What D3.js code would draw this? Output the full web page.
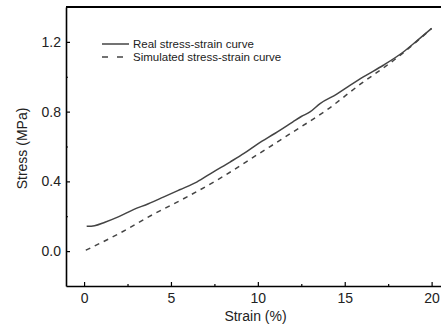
<!DOCTYPE html>
<html>
<head>
<meta charset="utf-8">
<script src="https://cdn.jsdelivr.net/npm/d3@7"></script>
<style>
  html, body { margin: 0; padding: 0; background: #fff; }
  svg { display: block; font-family: "Liberation Sans", Arial, sans-serif; }
</style>
</head>
<body>
<div id="chart"></div>
<script>
// 資料
const realStrain = [0.15, 0.6, 1.2, 2.0, 2.84, 3.7, 4.56, 5.5, 6.48, 7.4, 8.4, 9.2, 10.0, 11.0, 12.0, 12.5, 13.0, 13.58, 14.54, 15.3, 16.07, 17.22, 18.37, 19.2, 20.0];
const realStress = [0.142, 0.146, 0.166, 0.198, 0.238, 0.272, 0.31, 0.352, 0.396, 0.452, 0.511, 0.56, 0.615, 0.676, 0.74, 0.772, 0.798, 0.846, 0.9, 0.95, 0.999, 1.066, 1.142, 1.21, 1.277];
const simStrain = [0.1, 2, 4, 6, 8, 10, 12, 14, 16, 17.3, 18, 19, 20];
const simStress = [0.005, 0.1, 0.212, 0.315, 0.428, 0.555, 0.682, 0.812, 0.965, 1.056, 1.108, 1.19, 1.277];
const xTicks = [0, 5, 10, 15, 20];
const xMinor = [2.5, 7.5, 12.5, 17.5];
const yTicks = [0.0, 0.4, 0.8, 1.2];
const yMinor = [0.2, 0.6, 1.0];
const seriesNames = ["Real stress-strain curve", "Simulated stress-strain curve"];

const width = 441;
const height = 324;
const margin = { top: 7, right: 0, bottom: 38, left: 66 };

const svg = d3.select("#chart")
    .append("svg")
    .attr("width", width)
    .attr("height", height);

// 比例尺
const xScale = d3.scaleLinear()
    .domain([-1.04, 20.54])
    .range([margin.left, width - margin.right]);

const yScale = d3.scaleLinear()
    .domain([-0.2, 1.4])
    .range([height - margin.bottom, margin.top]);

const axisColor = "#000";

// x 軸 (刻度向內)
const xAxis = svg.append("g")
    .attr("transform", `translate(0, ${height - margin.bottom})`)
    .call(d3.axisBottom(xScale).tickValues(xTicks).tickSizeInner(-4).tickSizeOuter(0).tickPadding(7).tickFormat(d3.format("d")));
xAxis.select(".domain").attr("stroke-width", 1.6);
xAxis.selectAll(".tick line").attr("stroke-width", 1.2);
xAxis.selectAll(".tick text").style("font-size", "14px").attr("fill", "#222");

svg.append("g")
    .attr("transform", `translate(0, ${height - margin.bottom})`)
    .call(d3.axisBottom(xScale).tickValues(xMinor).tickSizeInner(-2).tickSizeOuter(0).tickFormat(""))
    .call(g => g.select(".domain").remove())
    .selectAll(".tick line").attr("stroke-width", 1.2);

// y 軸 (刻度向內)
const yAxis = svg.append("g")
    .attr("transform", `translate(${margin.left}, 0)`)
    .call(d3.axisLeft(yScale).tickValues(yTicks).tickSizeInner(-4).tickSizeOuter(0).tickPadding(5).tickFormat(d3.format(".1f")));
yAxis.select(".domain").attr("stroke-width", 1.6);
yAxis.selectAll(".tick line").attr("stroke-width", 1.2);
yAxis.selectAll(".tick text").style("font-size", "14px").attr("fill", "#222");

svg.append("g")
    .attr("transform", `translate(${margin.left}, 0)`)
    .call(d3.axisLeft(yScale).tickValues(yMinor).tickSizeInner(-2).tickSizeOuter(0).tickFormat(""))
    .call(g => g.select(".domain").remove())
    .selectAll(".tick line").attr("stroke-width", 1.2);

// 上框線
svg.append("line")
    .attr("x1", margin.left)
    .attr("x2", width)
    .attr("y1", margin.top)
    .attr("y2", margin.top)
    .attr("stroke", axisColor)
    .attr("stroke-width", 2.2);

// 軸標題
svg.append("text")
    .attr("x", (margin.left + 441) / 2 + 2)
    .attr("y", 321)
    .attr("text-anchor", "middle")
    .style("font-size", "14px")
    .attr("fill", "#222")
    .text("Strain (%)");

svg.append("text")
    .attr("transform", `translate(27, ${(margin.top + height - margin.bottom) / 2 + 2}) rotate(-90)`)
    .attr("text-anchor", "middle")
    .style("font-size", "14px")
    .attr("fill", "#222")
    .text("Stress (MPa)");

// 曲線
const lineColor = "#444";
const line = d3.line()
    .x(d => xScale(d[0]))
    .y(d => yScale(d[1]))
    .curve(d3.curveMonotoneX);

const simData = simStrain.map((s, i) => [s, simStress[i]]);
const realData = realStrain.map((s, i) => [s, realStress[i]]);

svg.append("path")
    .datum(simData)
    .attr("d", line)
    .attr("fill", "none")
    .attr("stroke", lineColor)
    .attr("stroke-width", 1.5)
    .attr("stroke-dasharray", "5,5");

svg.append("path")
    .datum(realData)
    .attr("d", line)
    .attr("fill", "none")
    .attr("stroke", lineColor)
    .attr("stroke-width", 1.5);

// 圖例
const legend = svg.append("g").attr("transform", "translate(102, 44)");
seriesNames.forEach((name, i) => {
    const row = legend.append("g").attr("transform", `translate(0, ${i * 13})`);
    row.append("line")
        .attr("x1", 0)
        .attr("x2", 27)
        .attr("y1", 0)
        .attr("y2", 0)
        .attr("stroke", lineColor)
        .attr("stroke-width", 1.5)
        .attr("stroke-dasharray", i === 1 ? "6,9" : null);
    row.append("text")
        .attr("x", 31)
        .attr("y", 4.2)
        .style("font-size", "11.5px")
        .attr("fill", "#222")
        .text(name);
});
</script>
</body>
</html>
